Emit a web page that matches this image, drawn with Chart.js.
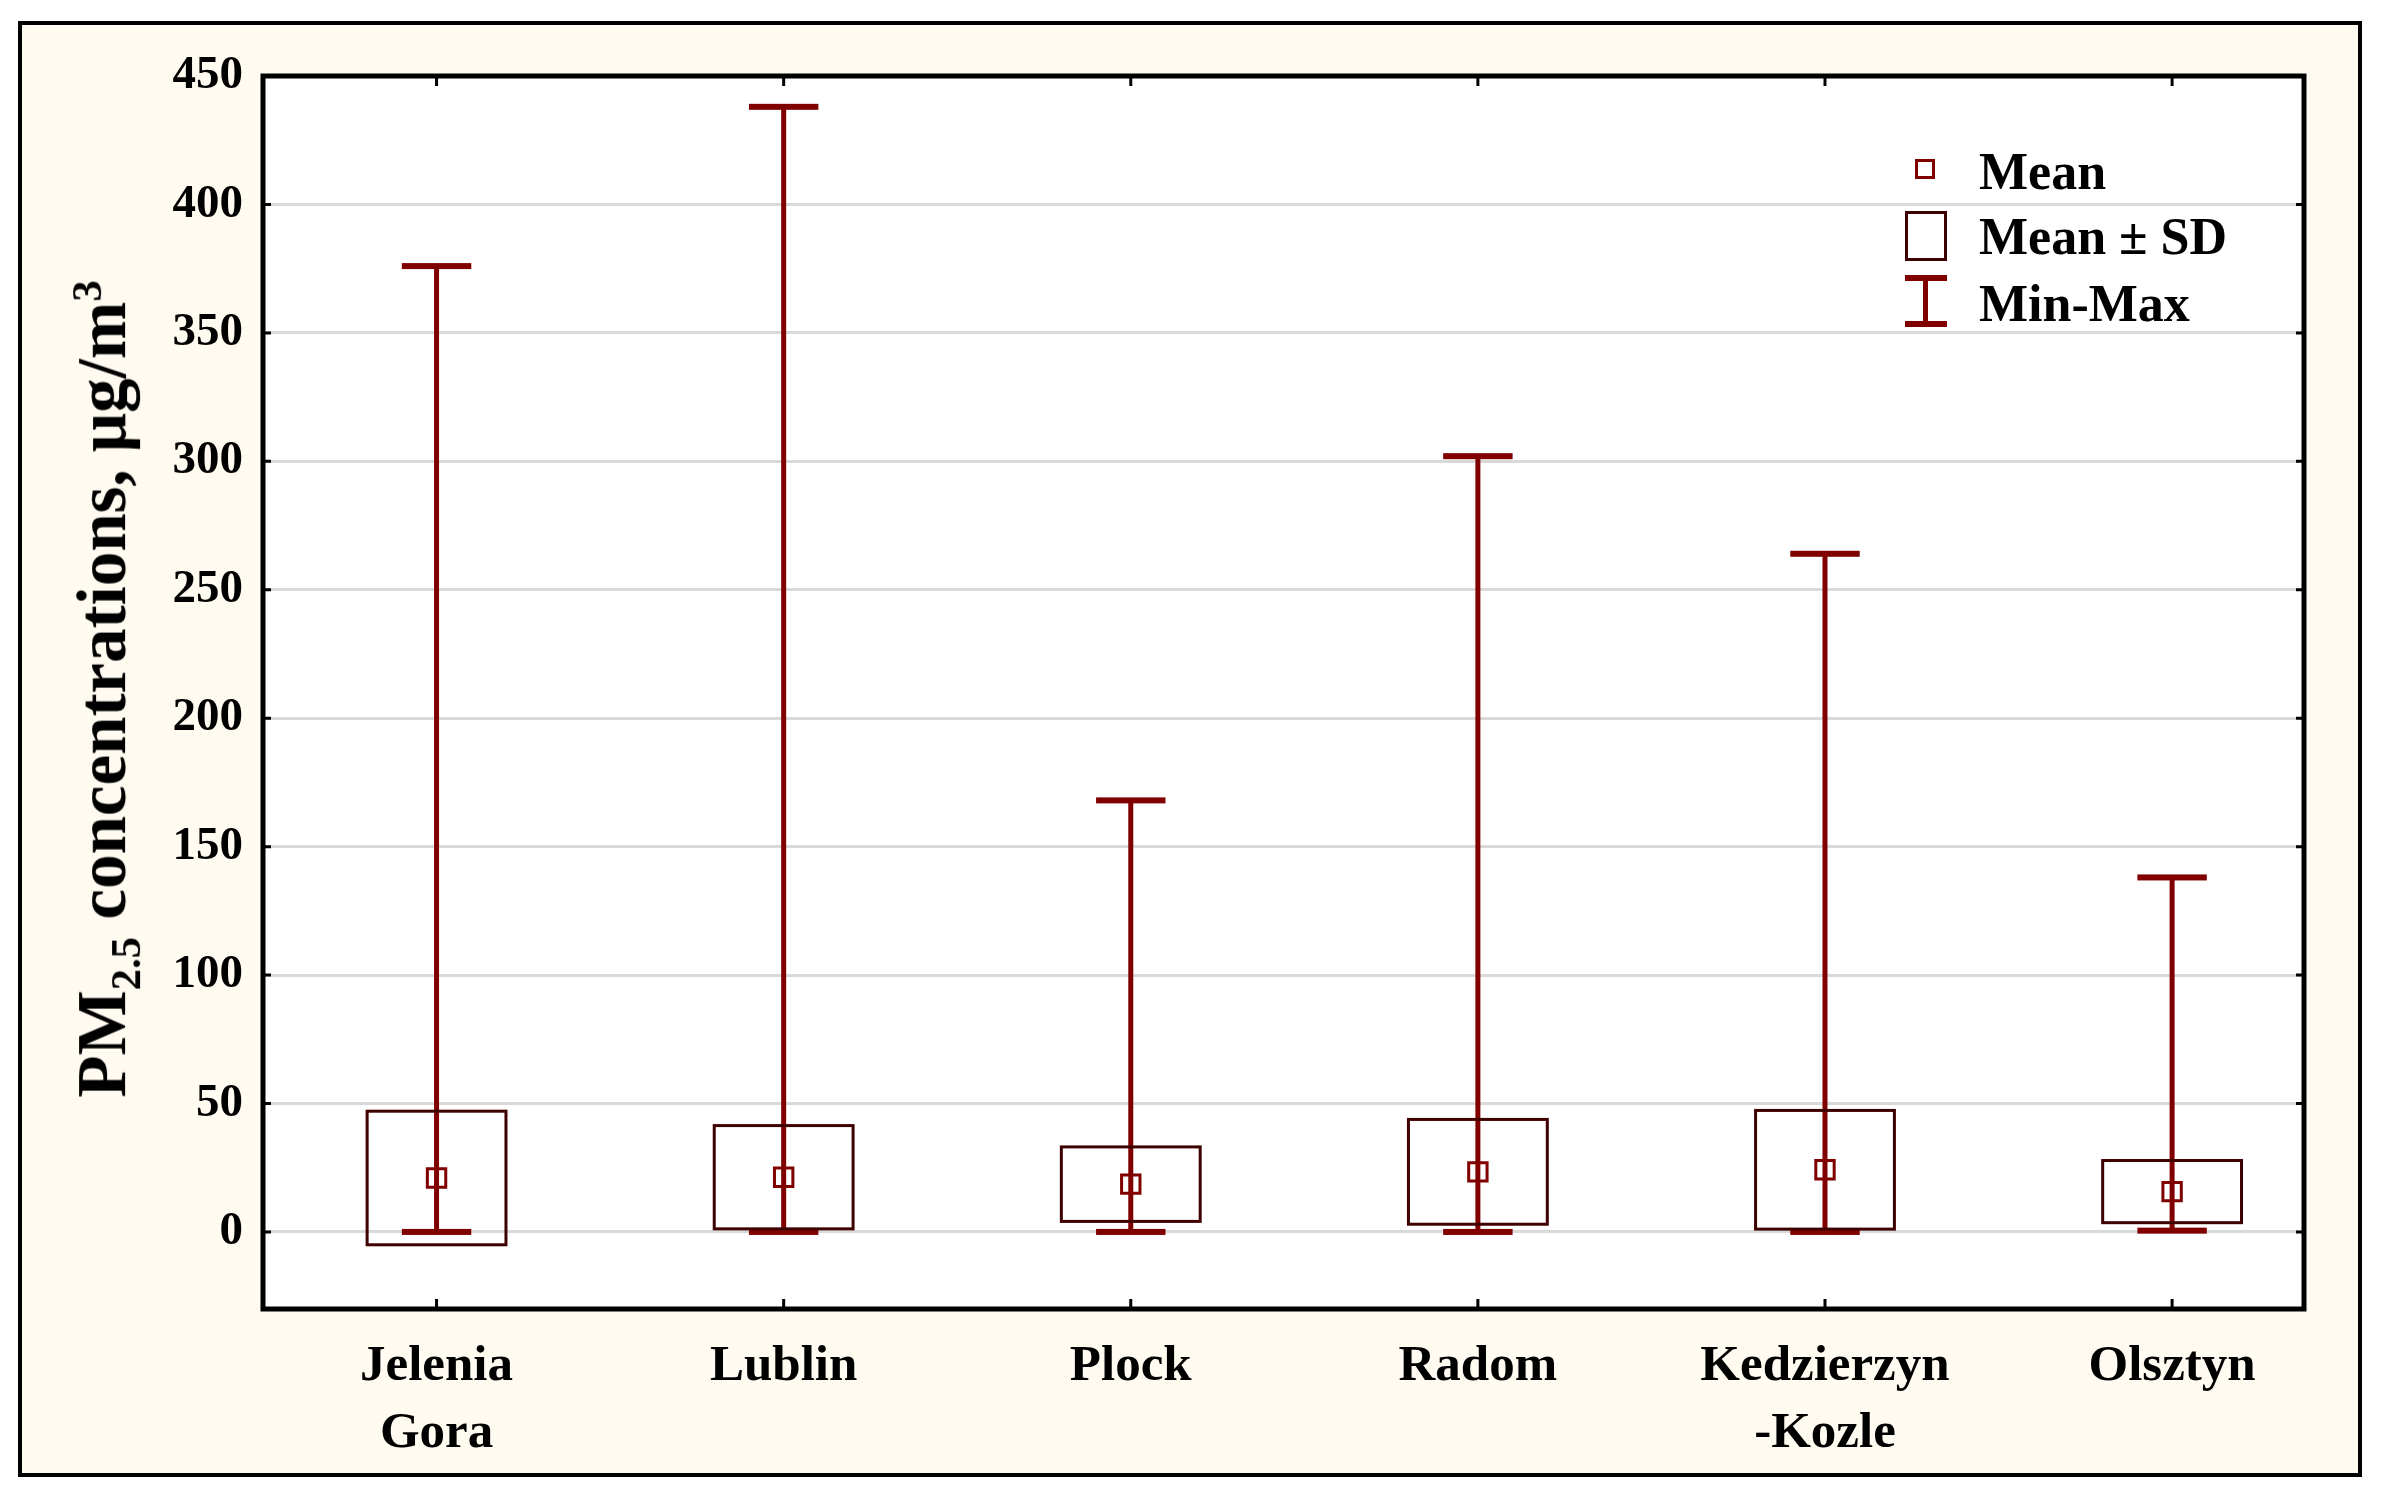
<!DOCTYPE html>
<html>
<head>
<meta charset="utf-8">
<script src="https://cdn.jsdelivr.net/npm/chart.js@4.4.0/dist/chart.umd.min.js"></script>
<style>
  body { margin: 0; background: #fff; }
  #frame { position: absolute; left: 18px; top: 21px; width: 2344px; height: 1456px;
           box-sizing: border-box; border: 4px solid #000; background: #fffbf0; }
  #wrap { position: absolute; left: 0; top: 0; width: 2382px; height: 1495px; }
  .txt { position: absolute; font-family: "Liberation Serif", serif; font-weight: bold; color: #000; white-space: nowrap; }
  #ytitle { left: 106px; top: 689px; font-size: 69px; transform: translate(-50%, -50%) rotate(-90deg); }
  #ytitle sub, #ytitle sup { font-size: 0.62em; }
  .leg { left: 1979px; font-size: 52px; height: 60px; line-height: 60px; }
  .sym { position: absolute; box-sizing: border-box; }
</style>
</head>
<body>
<div id="frame"></div>
<div id="wrap"><canvas id="pmChart"></canvas></div>
<div id="ytitle" class="txt">PM<sub>2.5</sub> concentrations, μg/m<sup>3</sup></div>

<!-- legend -->
<div class="sym" style="left:1915px; top:159px; width:20px; height:20px; border:3px solid #800000; background:#fff;"></div>
<div class="txt leg" style="top:142px;">Mean</div>
<div class="sym" style="left:1905px; top:211px; width:42px; height:50px; border:3px solid #3f0000;"></div>
<div class="txt leg" style="top:207px;">Mean ± SD</div>
<div class="sym" style="left:1905px; top:275px; width:42px; height:6px; background:#800000;"></div>
<div class="sym" style="left:1923px; top:278px; width:5px; height:46px; background:#800000;"></div>
<div class="sym" style="left:1905px; top:321px; width:42px; height:6px; background:#800000;"></div>
<div class="txt leg" style="top:274px;">Min-Max</div>

<script>
// ===== Dữ liệu =====
const categories = [['Jelenia', 'Gora'], ['Lublin'], ['Plock'], ['Radom'], ['Kedzierzyn', '-Kozle'], ['Olsztyn']];
const means = [21, 21.3, 18.6, 23.4, 24.2, 15.7];
const sds = [26, 20.1, 14.5, 20.4, 23.1, 12.1];
const mins = [0, 0, 0, 0, 0, 0.5];
const maxs = [376, 438, 168, 302, 264, 138];
const yTicks = [0, 50, 100, 150, 200, 250, 300, 350, 400, 450];

const whiskerColor = '#800000';
const boxColor = '#3f0000';

// box + whisker + frame plugin
const boxPlot = {
    id: 'boxPlot',
    beforeDraw(chart) {
        const a = chart.chartArea, c = chart.ctx;
        c.save();
        c.fillStyle = '#fff';
        c.fillRect(a.left, a.top, a.right - a.left, a.bottom - a.top);
        c.restore();
    },
    beforeDatasetsDraw(chart) {
        const c = chart.ctx, xs = chart.scales.x, ys = chart.scales.y;
        c.save();
        // whiskers
        c.strokeStyle = whiskerColor;
        c.fillStyle = whiskerColor;
        for (let i = 0; i < categories.length; i++) {
            const x = xs.getPixelForValue(i);
            const top = ys.getPixelForValue(maxs[i]);
            const bot = ys.getPixelForValue(mins[i]);
            c.lineWidth = 5;
            c.beginPath();
            c.moveTo(x, top);
            c.lineTo(x, bot);
            c.stroke();
            const half = xs.getPixelForValue(0.1) - xs.getPixelForValue(0);
            c.fillRect(x - half, top - 3, half * 2, 6);
            c.fillRect(x - half, bot - 3, half * 2, 6);
        }
        // mean ± SD boxes
        c.strokeStyle = boxColor;
        c.lineWidth = 3;
        for (let i = 0; i < categories.length; i++) {
            const x1 = xs.getPixelForValue(i - 0.2);
            const x2 = xs.getPixelForValue(i + 0.2);
            const y1 = ys.getPixelForValue(means[i] + sds[i]);
            const y2 = ys.getPixelForValue(means[i] - sds[i]);
            c.strokeRect(x1, y1, x2 - x1, y2 - y1);
        }
        c.restore();
    },
    afterDatasetsDraw(chart) {
        const a = chart.chartArea, c = chart.ctx, xs = chart.scales.x, ys = chart.scales.y;
        c.save();
        c.strokeStyle = '#000';
        c.lineWidth = 3;
        // inward ticks
        yTicks.forEach(v => {
            const y = ys.getPixelForValue(v);
            c.beginPath();
            c.moveTo(a.left, y); c.lineTo(a.left + 8, y);
            c.moveTo(a.right, y); c.lineTo(a.right - 8, y);
            c.stroke();
        });
        categories.forEach((_, i) => {
            const x = xs.getPixelForValue(i);
            c.beginPath();
            c.moveTo(x, a.bottom); c.lineTo(x, a.bottom - 10);
            c.moveTo(x, a.top); c.lineTo(x, a.top + 10);
            c.stroke();
        });
        c.lineWidth = 5;
        c.strokeRect(a.left, a.top, a.right - a.left, a.bottom - a.top);
        c.restore();
    }
};

const ctx = document.getElementById('pmChart');
new Chart(ctx, {
    type: 'scatter',
    data: {
        datasets: [{
            label: 'Mean',
            data: means.map((m, i) => ({ x: i, y: m })),
            pointStyle: 'rect',
            pointRadius: 13,
            pointBorderWidth: 3,
            borderColor: whiskerColor,
            backgroundColor: 'rgba(255,255,255,0)'
        }]
    },
    options: {
        responsive: true,
        maintainAspectRatio: false,
        animation: false,
        layout: { padding: { left: 0, top: 76, right: 78, bottom: 0 } },
        plugins: { legend: { display: false }, tooltip: { enabled: false } },
        scales: {
            x: {
                type: 'linear',
                min: -0.5,
                max: 5.38,
                afterBuildTicks: s => { s.ticks = categories.map((_, i) => ({ value: i })); },
                afterFit: s => { s.height = 186; },
                grid: { display: false },
                border: { display: false },
                ticks: {
                    autoSkip: false,
                    maxRotation: 0,
                    padding: 16,
                    color: '#000',
                    font: { family: 'Liberation Serif', weight: 'bold', size: 51, lineHeight: 1.32 },
                    callback: v => categories[v]
                }
            },
            y: {
                min: -30,
                max: 450,
                afterBuildTicks: s => { s.ticks = yTicks.map(v => ({ value: v })); },
                afterFit: s => { s.width = 263; },
                grid: { color: '#d9d9d9', lineWidth: 3, drawTicks: false },
                border: { display: false },
                ticks: {
                    padding: 20,
                    color: '#000',
                    font: { family: 'Liberation Serif', weight: 'bold', size: 47 }
                }
            }
        }
    },
    plugins: [boxPlot]
});
</script>
</body>
</html>
